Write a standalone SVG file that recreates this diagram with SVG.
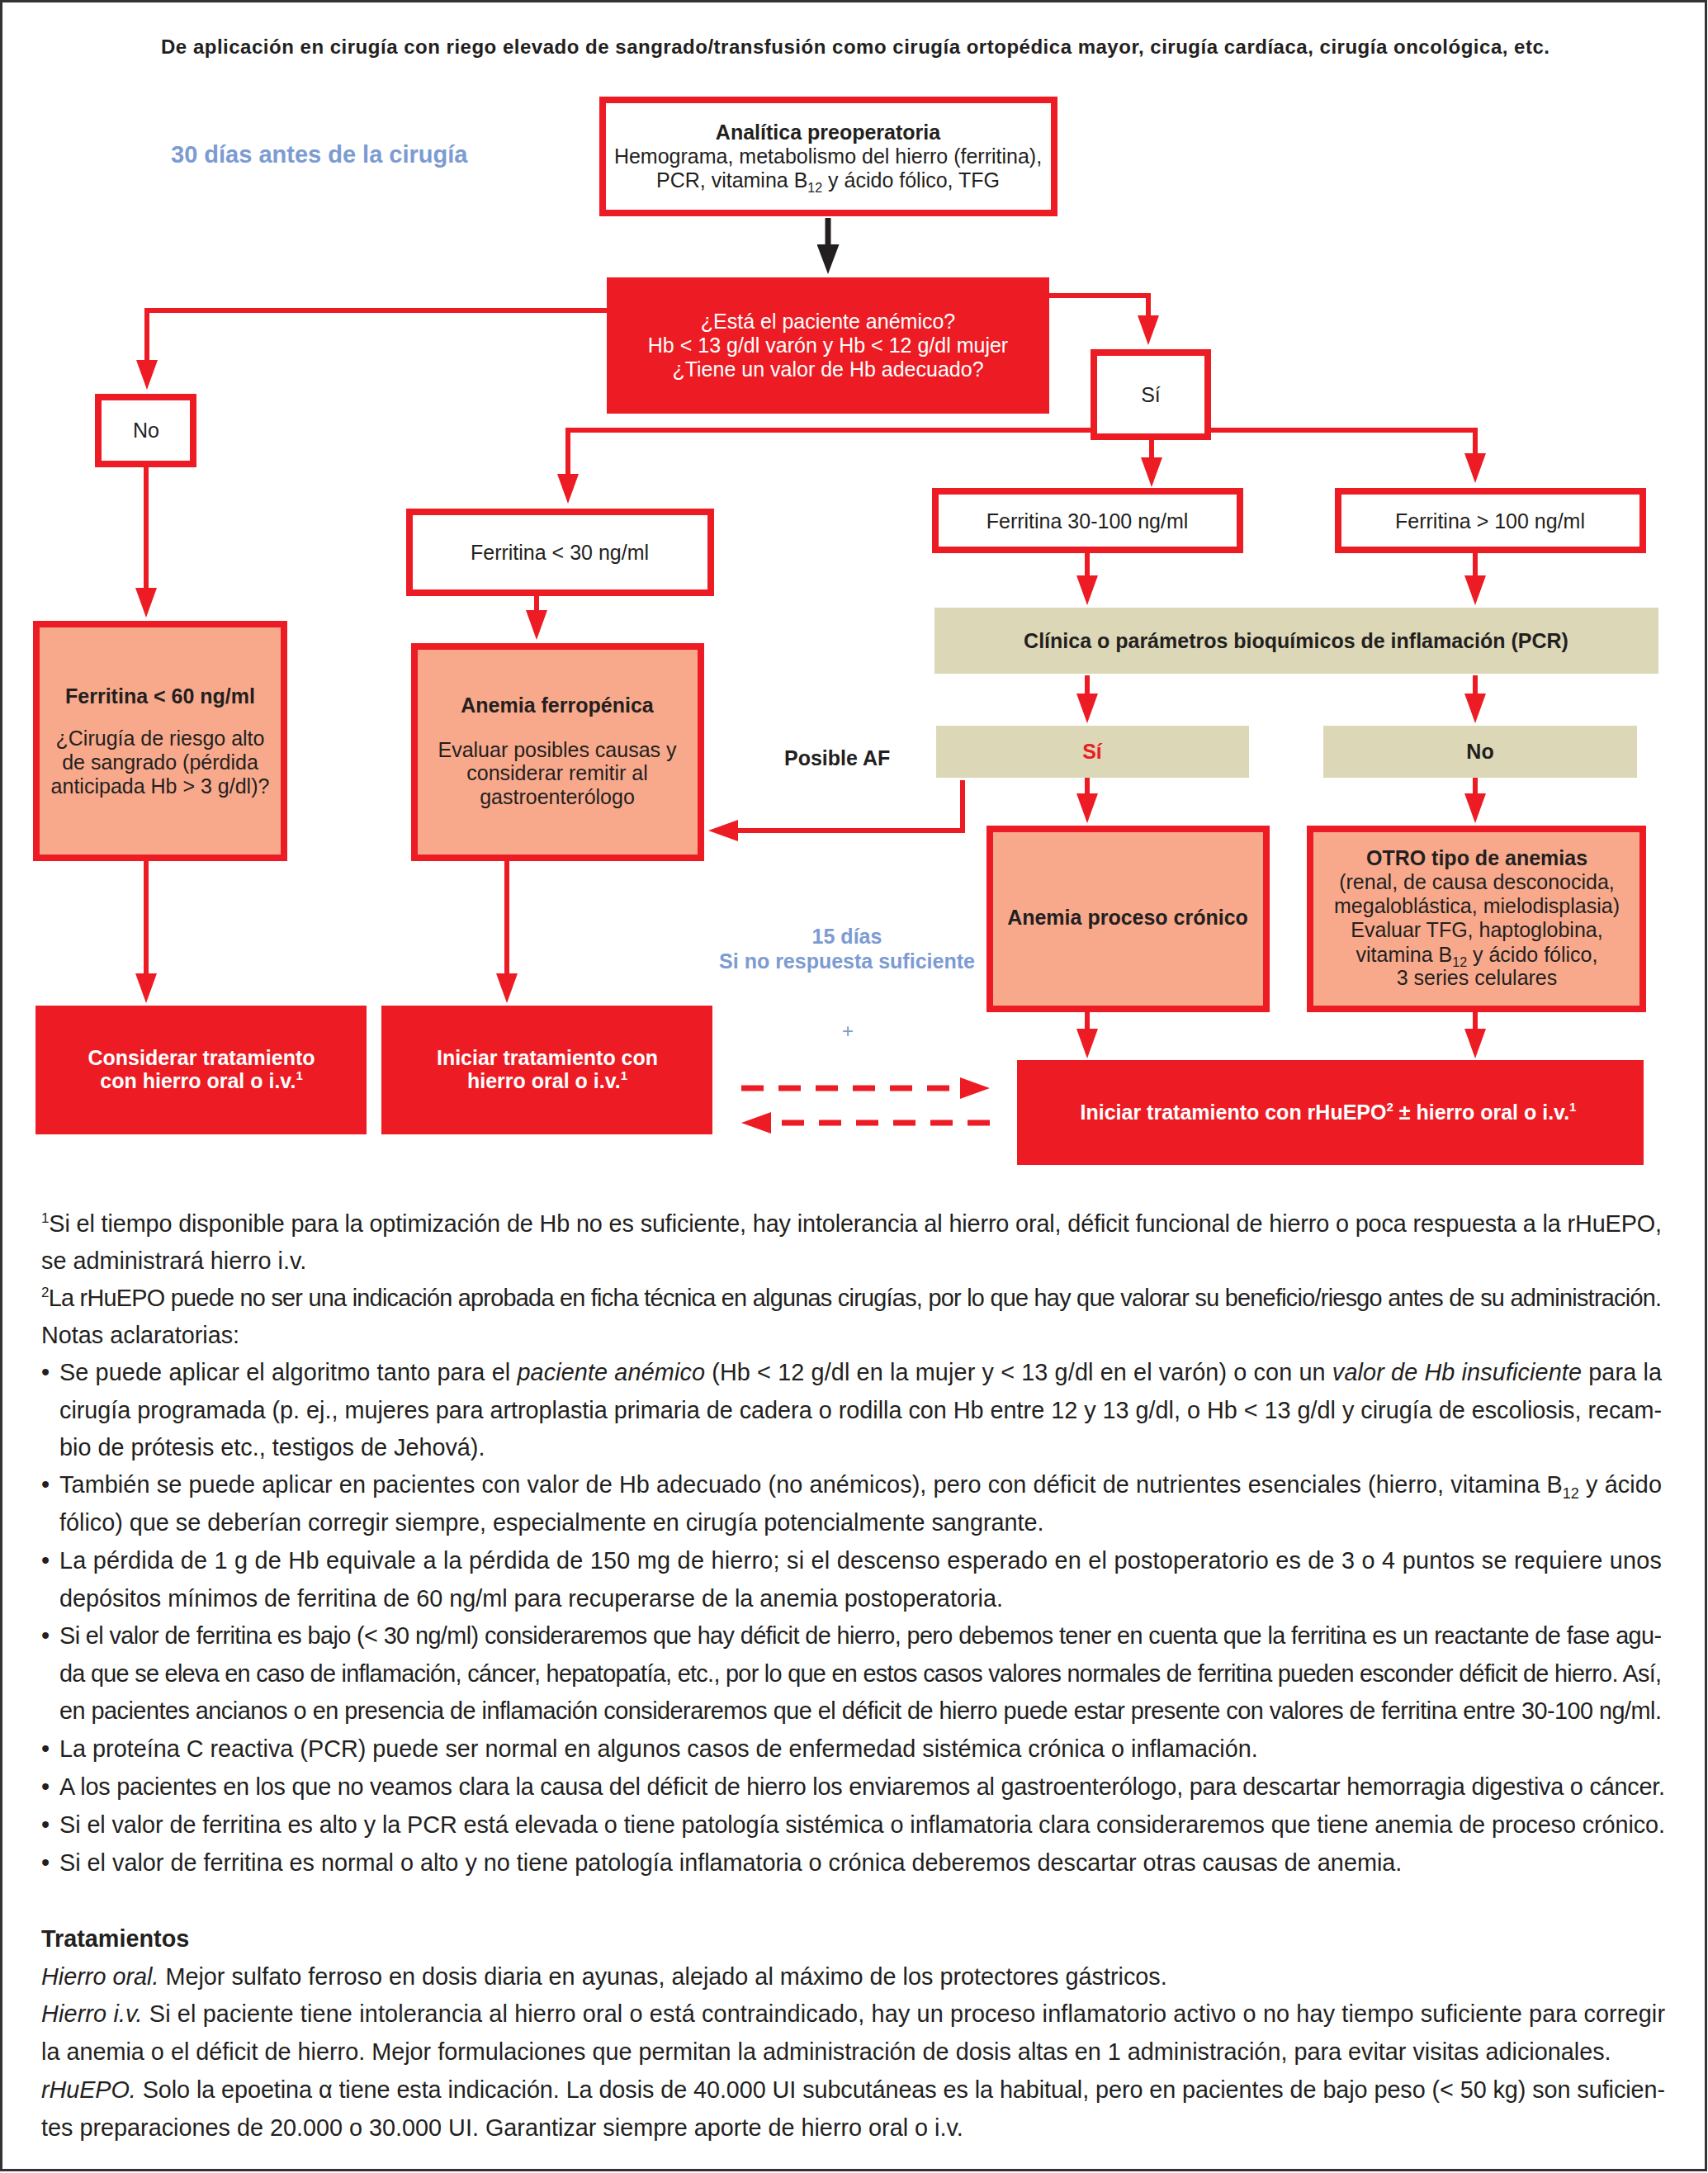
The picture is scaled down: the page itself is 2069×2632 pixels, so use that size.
<svg xmlns="http://www.w3.org/2000/svg" width="2069" height="2632" viewBox="0 0 2069 2632">
<style>
text{font-family:"Liberation Sans",Arial,Helvetica,sans-serif;fill:#231f20}
.b{font-weight:bold}
.bx{font-size:25px}
.bd{font-size:28.8px}
.w{fill:#fff}
.c{text-anchor:middle}
.blue{fill:#7c9bd2}
.red{fill:#ed1c24}
.ob{fill:#fff;stroke:#ed1c24;stroke-width:8}
.sb{fill:#f8a98c;stroke:#ed1c24;stroke-width:8}
.rb{fill:#ed1c24}
.gb{fill:#dcd7b7}
.ln{fill:none;stroke:#ed1c24;stroke-width:6;marker-end:url(#ah)}
.dl{fill:none;stroke:#ed1c24;stroke-width:7;stroke-dasharray:27 18;marker-end:url(#ah)}
.it{font-style:italic}
</style>
<defs>
<marker id="ah" viewBox="0 0 36 26" refX="1" refY="13" markerWidth="36" markerHeight="26" markerUnits="userSpaceOnUse" orient="auto"><path d="M0,0 L36,13 L0,26 z" fill="#ed1c24"/></marker>
<marker id="ahk" viewBox="0 0 36 27" refX="1" refY="13.5" markerWidth="36" markerHeight="27" markerUnits="userSpaceOnUse" orient="auto"><path d="M0,0 L36,13.5 L0,27 z" fill="#231f20"/></marker>
</defs>
<rect x="0" y="0" width="2069" height="2632" fill="#fff"/>
<rect x="1.5" y="1.5" width="2065" height="2627" fill="none" stroke="#333" stroke-width="3"/>

<g id="title">
<text x="195" y="65" class="b" font-size="24" textLength="1682">De aplicación en cirugía con riego elevado de sangrado/transfusión como cirugía ortopédica mayor, cirugía cardíaca, cirugía oncológica, etc.</text>
<text x="207" y="197" class="b blue" font-size="29">30 días antes de la cirugía</text>
</g>

<g id="connectors">
<path d="M1003,264 V297" fill="none" stroke="#231f20" stroke-width="7" marker-end="url(#ahk)"/>
<path class="ln" d="M735,376 H178 V437"/>
<path class="ln" d="M1271,358 H1391 V383"/>
<path class="ln" d="M177,566 V713"/>
<path class="ln" d="M1321,521 H688 V575"/>
<path class="ln" d="M1467,521 H1787 V550"/>
<path class="ln" d="M1395,533 V555"/>
<path class="ln" d="M1317,670 V698"/>
<path class="ln" d="M1787,670 V698"/>
<path class="ln" d="M1317,818 V841"/>
<path class="ln" d="M1787,818 V841"/>
<path class="ln" d="M1317,942 V962"/>
<path class="ln" d="M1787,942 V962"/>
<path class="ln" d="M1166,945 V1006 H893"/>
<path class="ln" d="M650,722 V740"/>
<path class="ln" d="M177,1043 V1180"/>
<path class="ln" d="M614,1043 V1180"/>
<path class="ln" d="M1317,1226 V1247"/>
<path class="ln" d="M1787,1226 V1247"/>
<path class="dl" d="M898,1318 H1164"/>
<path class="dl" d="M1199,1360 H933"/>
</g>

<g id="analitica">
<rect class="ob" x="730" y="121" width="547" height="137"/>
<text x="1003" y="169" class="bx b c">Analítica preoperatoria</text>
<text x="1003" y="198" class="bx c">Hemograma, metabolismo del hierro (ferritina),</text>
<text x="1003" y="227" class="bx c">PCR, vitamina B<tspan font-size="16" dy="6">12</tspan><tspan dy="-6"> y ácido fólico, TFG</tspan></text>
</g>

<g id="decision">
<rect class="rb" x="735" y="336" width="536" height="165"/>
<text x="1003" y="398" class="bx c w">¿Está el paciente anémico?</text>
<text x="1003" y="427" class="bx c w">Hb &lt; 13 g/dl varón y Hb &lt; 12 g/dl mujer</text>
<text x="1003" y="456" class="bx c w">¿Tiene un valor de Hb adecuado?</text>
</g>

<g id="no">
<rect class="ob" x="119" y="481" width="115" height="81"/>
<text x="177" y="530" class="bx c">No</text>
</g>

<g id="si">
<rect class="ob" x="1325" y="427" width="138" height="102"/>
<text x="1394" y="487" class="bx c">Sí</text>
</g>

<g id="ferr30">
<rect class="ob" x="496" y="620" width="365" height="98"/>
<text x="678" y="678" class="bx c">Ferritina &lt; 30 ng/ml</text>
</g>

<g id="ferr30100">
<rect class="ob" x="1133" y="595" width="369" height="71"/>
<text x="1317" y="640" class="bx c">Ferritina 30-100 ng/ml</text>
</g>

<g id="ferr100">
<rect class="ob" x="1621" y="595" width="369" height="71"/>
<text x="1805" y="640" class="bx c">Ferritina &gt; 100 ng/ml</text>
</g>

<g id="clinica">
<rect class="gb" x="1132" y="736" width="877" height="80"/>
<text x="1570" y="785" class="bx b c">Clínica o parámetros bioquímicos de inflamación (PCR)</text>
</g>

<g id="si2">
<rect class="gb" x="1134" y="879" width="379" height="63"/>
<text x="1323" y="919" class="bx b c red">Sí</text>
</g>

<g id="no2">
<rect class="gb" x="1603" y="879" width="380" height="63"/>
<text x="1793" y="919" class="bx b c">No</text>
</g>

<g id="posibleaf">
<text x="950" y="927" class="bx b">Posible AF</text>
</g>

<g id="ferr60">
<rect class="sb" x="44" y="756" width="300" height="283"/>
<text x="194" y="852" class="bx b c">Ferritina &lt; 60 ng/ml</text>
<text x="194" y="903" class="bx c">¿Cirugía de riesgo alto</text>
<text x="194" y="932" class="bx c">de sangrado (pérdida</text>
<text x="194" y="961" class="bx c">anticipada Hb &gt; 3 g/dl)?</text>
</g>

<g id="ferropenica">
<rect class="sb" x="502" y="783" width="347" height="256"/>
<text x="675" y="863" class="bx b c">Anemia ferropénica</text>
<text x="675" y="917" class="bx c">Evaluar posibles causas y</text>
<text x="675" y="945" class="bx c">considerar remitir al</text>
<text x="675" y="974" class="bx c">gastroenterólogo</text>
</g>

<g id="cronico">
<rect class="sb" x="1199" y="1004" width="335" height="218"/>
<text x="1366" y="1120" class="bx b c">Anemia proceso crónico</text>
</g>

<g id="otro">
<rect class="sb" x="1587" y="1004" width="403" height="218"/>
<text x="1789" y="1048" class="bx b c">OTRO tipo de anemias</text>
<text x="1789" y="1077" class="bx c">(renal, de causa desconocida,</text>
<text x="1789" y="1106" class="bx c">megaloblástica, mielodisplasia)</text>
<text x="1789" y="1135" class="bx c">Evaluar TFG, haptoglobina,</text>
<text x="1789" y="1165" class="bx c">vitamina B<tspan font-size="16" dy="6">12</tspan><tspan dy="-6"> y ácido fólico,</tspan></text>
<text x="1789" y="1193" class="bx c">3 series celulares</text>
</g>

<g id="quince">
<text x="1026" y="1143" class="bx b c blue">15 días</text>
<text x="1026" y="1173" class="bx b c blue">Si no respuesta suficiente</text>
<text x="1027" y="1257" class="c blue" font-size="24">+</text>
</g>

<g id="considerar">
<rect class="rb" x="43" y="1218" width="401" height="156"/>
<text x="244" y="1290" class="bx b c w">Considerar tratamiento</text>
<text x="244" y="1318" class="bx b c w">con hierro oral o i.v.<tspan font-size="15" dy="-10">1</tspan></text>
</g>

<g id="iniciar">
<rect class="rb" x="462" y="1218" width="401" height="156"/>
<text x="663" y="1290" class="bx b c w">Iniciar tratamiento con</text>
<text x="663" y="1318" class="bx b c w">hierro oral o i.v.<tspan font-size="15" dy="-10">1</tspan></text>
</g>

<g id="rhuepo">
<rect class="rb" x="1232" y="1284" width="759" height="127"/>
<text x="1609" y="1356" class="bx b c w">Iniciar tratamiento con rHuEPO<tspan font-size="15" dy="-10">2</tspan><tspan dy="10"> ± hierro oral o i.v.</tspan><tspan font-size="15" dy="-10">1</tspan></text>
</g>

<g id="notes" class="bd">
<text x="50" y="1492" class="bd" textLength="1963"><tspan font-size="17" dy="-11">1</tspan><tspan dy="11">Si el tiempo disponible para la optimización de Hb no es suficiente, hay intolerancia al hierro oral, déficit funcional de hierro o poca respuesta a la rHuEPO,</tspan></text>
<text x="50" y="1537" class="bd">se administrará hierro i.v.</text>
<text x="50" y="1582" class="bd" textLength="1963"><tspan font-size="17" dy="-11">2</tspan><tspan dy="11">La rHuEPO puede no ser una indicación aprobada en ficha técnica en algunas cirugías, por lo que hay que valorar su beneficio/riesgo antes de su administración.</tspan></text>
<text x="50" y="1627" class="bd">Notas aclaratorias:</text>
<text x="50" y="1672" class="bd">•</text>
<text x="72" y="1672" class="bd" textLength="1941">Se puede aplicar el algoritmo tanto para el <tspan class="it">paciente anémico</tspan> (Hb &lt; 12 g/dl en la mujer y &lt; 13 g/dl en el varón) o con un <tspan class="it">valor de Hb insuficiente</tspan> para la</text>
<text x="72" y="1718" class="bd" textLength="1941">cirugía programada (p. ej., mujeres para artroplastia primaria de cadera o rodilla con Hb entre 12 y 13 g/dl, o Hb &lt; 13 g/dl y cirugía de escoliosis, recam-</text>
<text x="72" y="1763" class="bd">bio de prótesis etc., testigos de Jehová).</text>
<text x="50" y="1808" class="bd">•</text>
<text x="72" y="1808" class="bd" textLength="1941">También se puede aplicar en pacientes con valor de Hb adecuado (no anémicos), pero con déficit de nutrientes esenciales (hierro, vitamina B<tspan font-size="18" dy="7">12</tspan><tspan dy="-7"> y ácido</tspan></text>
<text x="72" y="1854" class="bd">fólico) que se deberían corregir siempre, especialmente en cirugía potencialmente sangrante.</text>
<text x="50" y="1900" class="bd">•</text>
<text x="72" y="1900" class="bd" textLength="1941">La pérdida de 1 g de Hb equivale a la pérdida de 150 mg de hierro; si el descenso esperado en el postoperatorio es de 3 o 4 puntos se requiere unos</text>
<text x="72" y="1946" class="bd">depósitos mínimos de ferritina de 60 ng/ml para recuperarse de la anemia postoperatoria.</text>
<text x="50" y="1991" class="bd">•</text>
<text x="72" y="1991" class="bd" textLength="1941">Si el valor de ferritina es bajo (&lt; 30 ng/ml) consideraremos que hay déficit de hierro, pero debemos tener en cuenta que la ferritina es un reactante de fase agu-</text>
<text x="72" y="2037" class="bd" textLength="1941">da que se eleva en caso de inflamación, cáncer, hepatopatía, etc., por lo que en estos casos valores normales de ferritina pueden esconder déficit de hierro. Así,</text>
<text x="72" y="2082" class="bd" textLength="1941">en pacientes ancianos o en presencia de inflamación consideraremos que el déficit de hierro puede estar presente con valores de ferritina entre 30-100 ng/ml.</text>
<text x="50" y="2128" class="bd">•</text>
<text x="72" y="2128" class="bd">La proteína C reactiva (PCR) puede ser normal en algunos casos de enfermedad sistémica crónica o inflamación.</text>
<text x="50" y="2174" class="bd">•</text>
<text x="72" y="2174" class="bd" textLength="1945">A los pacientes en los que no veamos clara la causa del déficit de hierro los enviaremos al gastroenterólogo, para descartar hemorragia digestiva o cáncer.</text>
<text x="50" y="2220" class="bd">•</text>
<text x="72" y="2220" class="bd" textLength="1945">Si el valor de ferritina es alto y la PCR está elevada o tiene patología sistémica o inflamatoria clara consideraremos que tiene anemia de proceso crónico.</text>
<text x="50" y="2266" class="bd">•</text>
<text x="72" y="2266" class="bd">Si el valor de ferritina es normal o alto y no tiene patología inflamatoria o crónica deberemos descartar otras causas de anemia.</text>
</g>

<g id="tratamientos">
<text x="50" y="2358" class="bd b">Tratamientos</text>
<text x="50" y="2404" class="bd"><tspan class="it">Hierro oral.</tspan> Mejor sulfato ferroso en dosis diaria en ayunas, alejado al máximo de los protectores gástricos.</text>
<text x="50" y="2449" class="bd" textLength="1967"><tspan class="it">Hierro i.v.</tspan> Si el paciente tiene intolerancia al hierro oral o está contraindicado, hay un proceso inflamatorio activo o no hay tiempo suficiente para corregir</text>
<text x="50" y="2495" class="bd">la anemia o el déficit de hierro. Mejor formulaciones que permitan la administración de dosis altas en 1 administración, para evitar visitas adicionales.</text>
<text x="50" y="2541" class="bd" textLength="1967"><tspan class="it">rHuEPO.</tspan> Solo la epoetina α tiene esta indicación. La dosis de 40.000 UI subcutáneas es la habitual, pero en pacientes de bajo peso (&lt; 50 kg) son suficien-</text>
<text x="50" y="2587" class="bd">tes preparaciones de 20.000 o 30.000 UI. Garantizar siempre aporte de hierro oral o i.v.</text>
</g>
</svg>
